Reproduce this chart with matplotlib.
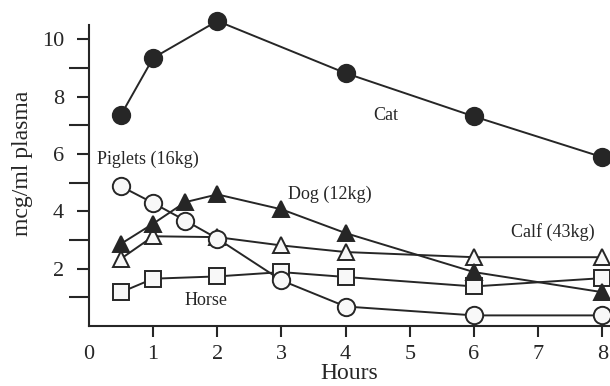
import matplotlib
matplotlib.use("Agg")
import matplotlib.pyplot as plt

plt.rcParams['font.family'] = ['Liberation Serif', 'DejaVu Serif']

# valores
cat_h = [0.5, 1, 2, 4, 6, 8]
cat = [7.37, 9.35, 10.64, 8.82, 7.31, 5.89]

piglet_h = [0.5, 1, 1.5, 2, 3, 4, 6, 8]
piglet = [4.87, 4.29, 3.68, 3.05, 1.59, 0.68, 0.37, 0.37]

dog_h = [0.5, 1, 1.5, 2, 3, 4, 6, 8]
dog = [2.87, 3.57, 4.32, 4.59, 4.07, 3.24, 1.88, 1.18]

calf_h = [0.5, 1, 2, 3, 4, 6, 8]
calf = [2.35, 3.13, 3.10, 2.81, 2.58, 2.40, 2.40]

horse_h = [0.5, 1, 2, 3, 4, 6, 8]
horse = [1.18, 1.65, 1.73, 1.88, 1.71, 1.38, 1.67]

x_ticks = [0, 1, 2, 3, 4, 5, 6, 7, 8]
y_major = [2, 4, 6, 8, 10]
y_minor = [1, 3, 5, 7, 9]

dark = '#262626'
light = '#f8f8f8'

fig = plt.figure(figsize=(6.1, 3.86), dpi=100)
ax = fig.add_axes([89/610, 1 - 326/386, 1 - 89/610, 301/386])

common = dict(color=dark, lw=1.4, mec=dark, mew=1.4, clip_on=False)
ax.plot(horse_h, horse, 's', ls='-', ms=11, mfc=light, zorder=3, **common)
ax.plot(calf_h, calf, '^', ls='-', ms=12, mfc=light, zorder=4, **common)
ax.plot(piglet_h, piglet, 'o', ls='-', ms=12.5, mfc=light, zorder=5, **common)
ax.plot(dog_h, dog, '^', ls='-', ms=12, mfc=dark, zorder=6, **common)
ax.plot(cat_h, cat, 'o', ls='-', ms=12.5, mfc=dark, zorder=7, **common)

ax.set_xlim(0, 8.12)
ax.set_ylim(0, 10.5)

ax.set_xticks(x_ticks)
ax.set_yticks(y_major)
ax.set_yticks(y_minor, minor=True)

ax.spines['top'].set_visible(False)
ax.spines['right'].set_visible(False)
for s in ['left', 'bottom']:
    ax.spines[s].set_linewidth(1.5)
    ax.spines[s].set_color(dark)

ax.tick_params(axis='x', which='major', direction='out', length=8, width=1.5,
               color=dark, labelsize=16, pad=6, labelcolor=dark)
ax.tick_params(axis='y', which='major', direction='out', length=9, width=1.5,
               color=dark, labelsize=16, pad=9, labelcolor=dark)
ax.tick_params(axis='y', which='minor', direction='out', length=14.5, width=1.5,
               color=dark)
ax.xaxis.get_major_ticks()[0].tick1line.set_visible(False)

ax.set_xlabel('Hours', fontsize=17, color=dark, labelpad=-1)
ax.set_ylabel('mcg/ml plasma', fontsize=17, color=dark)
ax.yaxis.set_label_coords(-0.108, 0.54)

ax.text(4.62, 7.35, 'Cat', fontsize=13, ha='center', va='center', color=dark)
ax.text(0.12, 5.81, 'Piglets (16kg)', fontsize=13, ha='left', va='center', color=dark)
ax.text(3.76, 4.59, 'Dog (12kg)', fontsize=13, ha='center', va='center', color=dark)
ax.text(7.23, 3.27, 'Calf (43kg)', fontsize=13, ha='center', va='center', color=dark)
ax.text(1.82, 0.9, 'Horse', fontsize=13, ha='center', va='center', color=dark)

fig.savefig('out.png', dpi=100)
